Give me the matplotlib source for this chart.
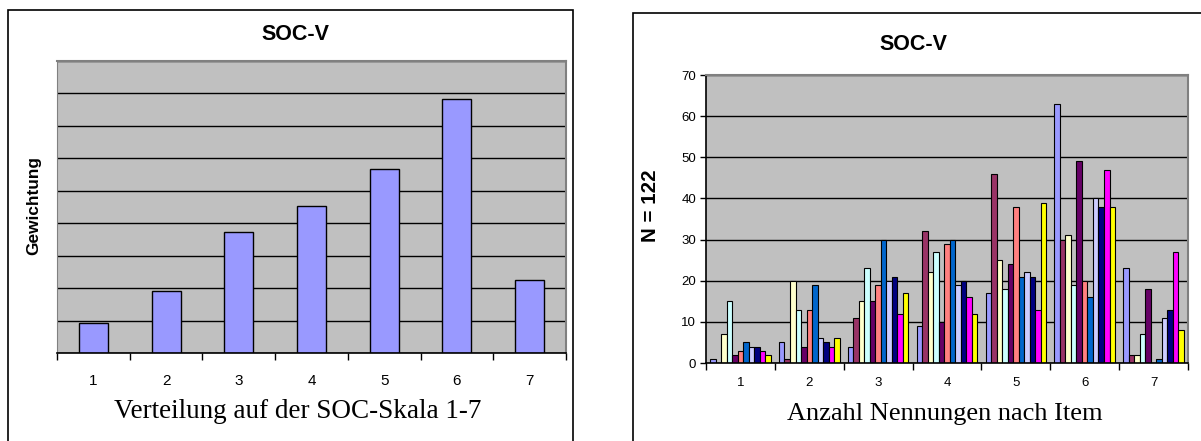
import numpy as np
import matplotlib
matplotlib.use("Agg")
import matplotlib.pyplot as plt
from matplotlib.patches import Rectangle

plt.rcParams['font.family'] = ['Liberation Sans', 'DejaVu Sans']

# scale values 1-7
skala = [1, 2, 3, 4, 5, 6, 7]

# left chart: weighting per scale value
gewichtung = [46, 96, 187, 226, 284, 391, 112]

# right chart: number of mentions per item (11 items) on each scale value
item_1 = [1, 5, 4, 9, 17, 63, 23]
item_2 = [0, 1, 11, 32, 46, 30, 2]
item_3 = [7, 20, 15, 22, 25, 31, 2]
item_4 = [15, 13, 23, 27, 18, 19, 7]
item_5 = [2, 4, 15, 10, 24, 49, 18]
item_6 = [3, 13, 19, 29, 38, 20, 0]
item_7 = [5, 19, 30, 30, 21, 16, 1]
item_8 = [4, 6, 20, 19, 22, 40, 11]
item_9 = [4, 5, 21, 20, 21, 38, 13]
item_10 = [3, 4, 12, 16, 13, 47, 27]
item_11 = [2, 6, 17, 12, 39, 38, 8]
items = [item_1, item_2, item_3, item_4, item_5, item_6,
         item_7, item_8, item_9, item_10, item_11]

farben = ['#9999FF', '#993366', '#FFFFCC', '#CCFFFF', '#660066', '#FF8080',
          '#0066CC', '#CCCCFF', '#000080', '#FF00FF', '#FFFF00']

W, H = 1201, 441
fig = plt.figure(figsize=(W / 100, H / 100), dpi=100)

# outer frames of both charts
fig.patches.append(Rectangle((8 / W, -0.05), (573 - 8) / W, 1.05 - 10.5 / H,
                             transform=fig.transFigure, fill=False,
                             edgecolor='black', lw=1.2))
fig.patches.append(Rectangle((632.5 / W, -0.05), 0.5, 1.05 - 12.7 / H,
                             transform=fig.transFigure, fill=False,
                             edgecolor='black', lw=1.2))

def style_axes(ax):
    ax.set_facecolor('#C0C0C0')
    ax.set_axisbelow(True)
    ax.yaxis.grid(True, color='black', lw=1)
    for s in ['top', 'right']:
        ax.spines[s].set_color('#808080')
        ax.spines[s].set_linewidth(1.5)
    ax.spines['bottom'].set_color('black')
    ax.spines['bottom'].set_linewidth(1.2)
    ax.set_xlim(0.5, 7.5)
    ax.set_xticks(skala)
    ax.set_xticklabels([str(s) for s in skala])
    ax.set_xticks(np.arange(0.5, 8, 1), minor=True)
    ax.tick_params(axis='x', which='major', length=0, pad=10)
    ax.tick_params(axis='x', which='minor', length=5, width=1, direction='out')

# ---- left chart ----
ax1 = fig.add_axes([57 / W, 1 - 353 / H, (566 - 57) / W, (353 - 61) / H])
style_axes(ax1)
ax1.bar(skala, gewichtung, width=0.4, color='#9999FF', edgecolor='black', lw=1)
ax1.set_ylim(0, 450)
ax1.set_yticks(np.arange(0, 451, 50))
ax1.set_yticklabels([])
ax1.tick_params(axis='y', length=0)
ax1.spines['left'].set_color('#808080')
ax1.tick_params(axis='x', which='major', labelsize=11, pad=15)
fig.text(295 / W, 1 - 35 / H, 'SOC-V', ha='center', va='center',
         fontsize=15.5, fontweight='bold')
fig.text(34 / W, 1 - 206 / H, 'Gewichtung', ha='center', va='center',
         rotation=90, fontsize=12.4, fontweight='bold')
fig.text(298 / W, 1 - 412 / H, 'Verteilung auf der SOC-Skala 1-7',
         ha='center', va='center', fontsize=19.5, family='Liberation Serif')

# ---- right chart ----
ax2 = fig.add_axes([706 / W, 1 - 363 / H, (1188 - 706) / W, (363 - 75) / H])
style_axes(ax2)
breite = 1 / 12.5
x = np.array(skala, dtype=float)
for i, (werte, farbe) in enumerate(zip(items, farben)):
    ax2.bar(x + (i - 5) * breite, werte, width=breite, color=farbe,
            edgecolor='black', lw=0.8)
ax2.set_ylim(0, 70)
ax2.set_yticks(np.arange(0, 71, 10))
ax2.spines['left'].set_color('black')
ax2.spines['left'].set_linewidth(1.2)
ax2.tick_params(axis='y', length=4, width=1, direction='out', labelsize=9.5, pad=3)
ax2.tick_params(axis='x', labelsize=9.5)
fig.text(913 / W, 1 - 45 / H, 'SOC-V', ha='center', va='center',
         fontsize=15.5, fontweight='bold')
fig.text(651 / W, 1 - 206 / H, 'N = 122', ha='center', va='center',
         rotation=90, fontsize=14.8, fontweight='bold')
fig.text(945 / W, 1 - 414 / H, 'Anzahl Nennungen nach Item',
         ha='center', va='center', fontsize=19, family='Liberation Serif')

fig.savefig('out.png', dpi=100)
